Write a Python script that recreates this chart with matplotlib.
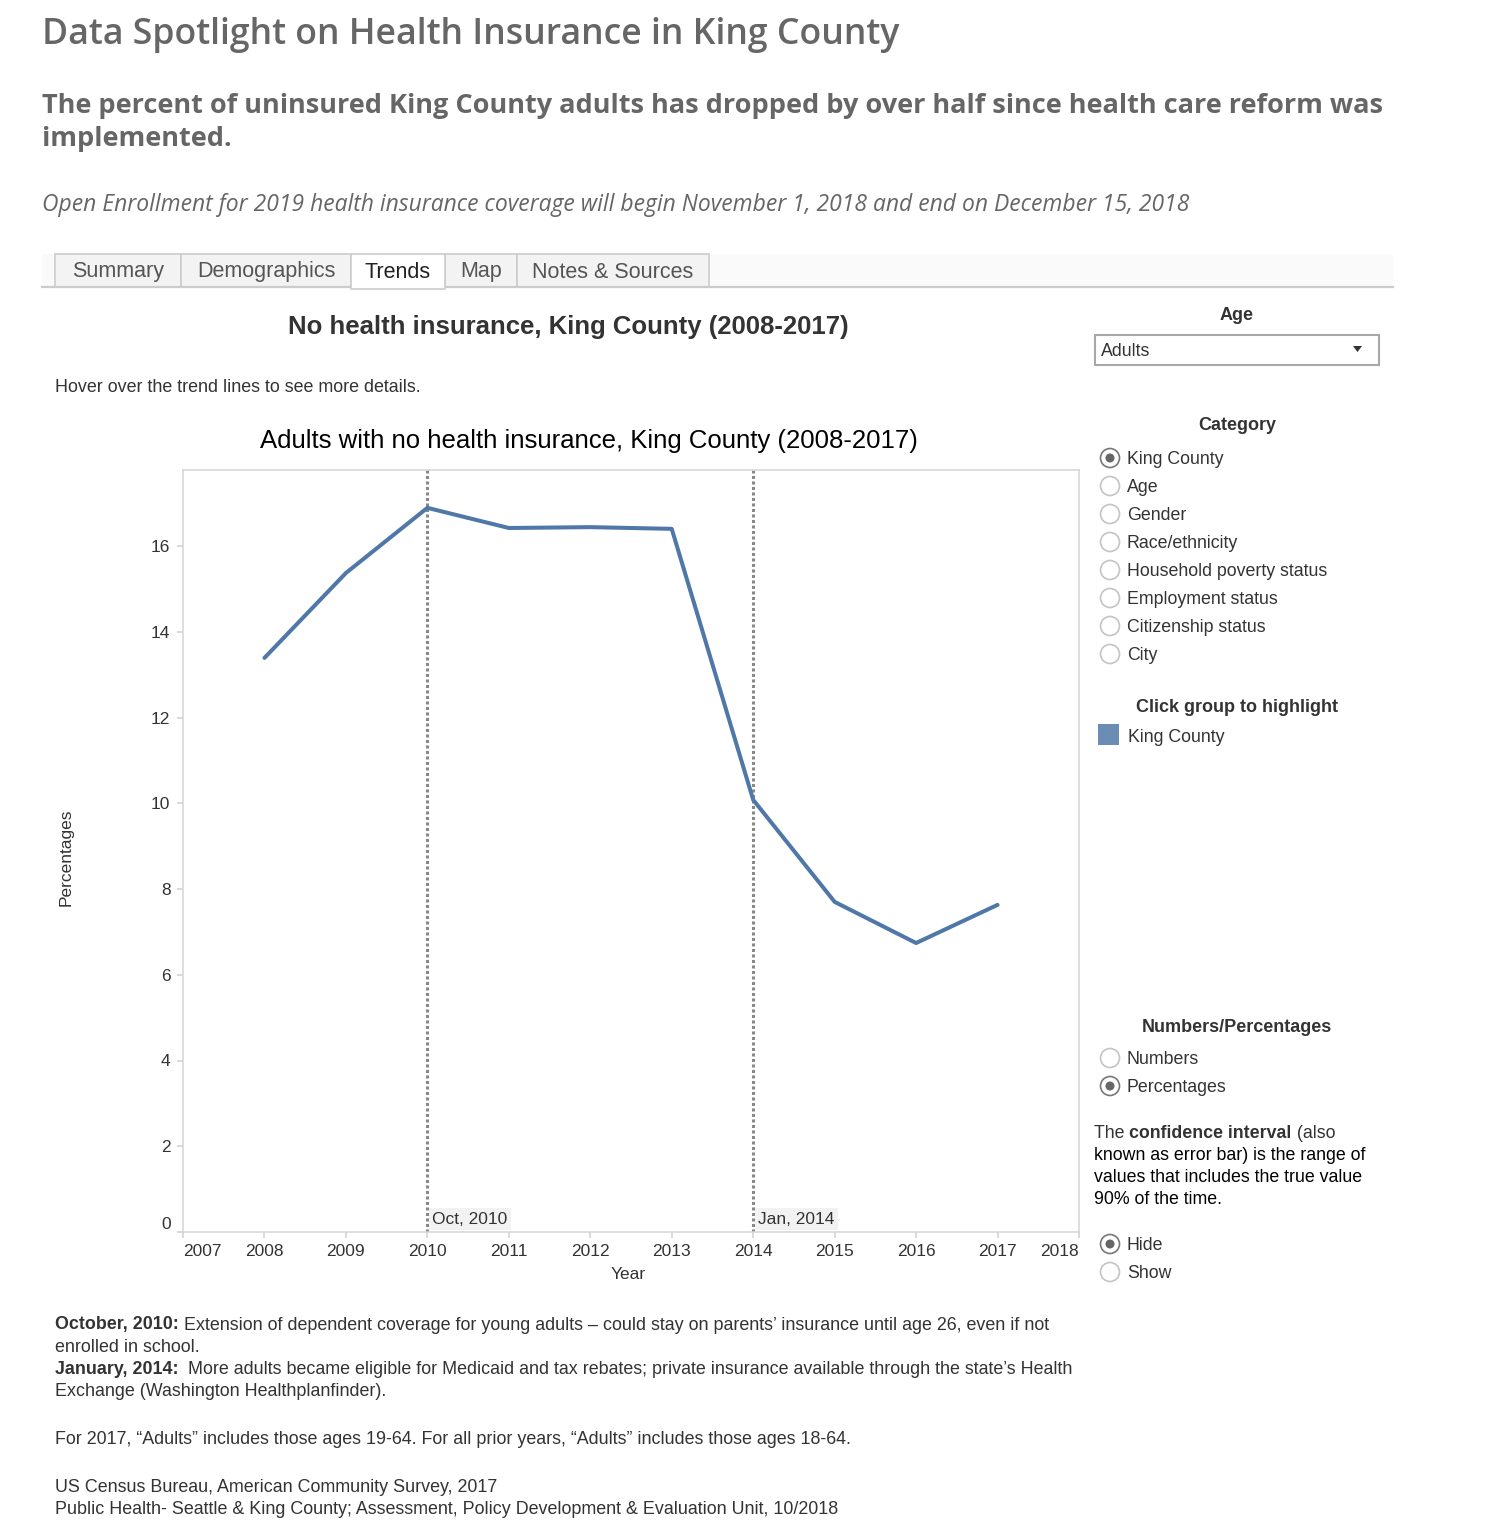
"""King County uninsured adults trend, redrawn as a static dashboard page."""

import matplotlib

matplotlib.use("Agg")
import matplotlib.pyplot as plt
from matplotlib.patches import Rectangle, Circle, Polygon

# ---- data ----
years = [2008, 2009, 2010, 2011, 2012, 2013, 2014, 2015, 2016, 2017]
pct_uninsured = [13.39, 15.37, 16.89, 16.42, 16.44, 16.40, 10.08, 7.70, 6.74, 7.63]
policy_years = [2010, 2014]
policy_labels = ["Oct, 2010", "Jan, 2014"]
y_ticks = [0, 2, 4, 6, 8, 10, 12, 14, 16]
x_ticks = list(range(2007, 2019))

tabs = ["Summary", "Demographics", "Trends", "Map", "Notes & Sources"]
active_tab = "Trends"
category_opts = ["King County", "Age", "Gender", "Race/ethnicity",
                 "Household poverty status", "Employment status",
                 "Citizenship status", "City"]
measure_opts = ["Numbers", "Percentages"]
ci_opts = ["Hide", "Show"]

W, H = 1493, 1533
BODY = ["Liberation Sans", "DejaVu Sans"]
HEAD = ["Open Sans", "DejaVu Sans"]
LINE_BLUE = "#4f78a8"
DARK = "#333333"
FOOT = 12.9

fig = plt.figure(figsize=(W / 100, H / 100), dpi=100)
cv = fig.add_axes([0, 0, 1, 1])
cv.set_xlim(0, W)
cv.set_ylim(H, 0)
cv.axis("off")
renderer = fig.canvas.get_renderer()


def txt(x, y, s, size, **kw):
    kw.setdefault("family", BODY)
    kw.setdefault("color", DARK)
    kw.setdefault("va", "center")
    return cv.text(x, y, s, fontsize=size, **kw)


def rich(x, y, parts, size):
    cx = x
    for s, w in parts:
        t = txt(cx, y, s, size, fontweight=w)
        cx += t.get_window_extent(renderer=renderer).width


def radio(x, y, label, selected):
    cv.add_patch(Circle((x, y), 9.5, facecolor="white",
                        edgecolor="#777777" if selected else "#c4c4c4", lw=1.2))
    if selected:
        cv.add_patch(Circle((x, y), 4.5, facecolor="#666666", edgecolor="none"))
    txt(x + 17, y + 1, label, 12.8)


# ---- page header ----
txt(42, 35, "Data Spotlight on Health Insurance in King County", 25.7,
    family=HEAD, color="#666666", fontweight=600)
txt(42, 106, "The percent of uninsured King County adults has dropped by over half since health care reform was",
    19.5, family=HEAD, color="#666666", fontweight="bold")
txt(42, 139, "implemented.", 19.5, family=HEAD, color="#666666", fontweight="bold")
txt(42, 205, "Open Enrollment for 2019 health insurance coverage will begin November 1, 2018 and end on December 15, 2018",
    16.5, family=HEAD, color="#666666", style="italic")

# ---- tab strip ----
cv.add_patch(Rectangle((42, 254), 1351, 33, facecolor="#fafafa", edgecolor="none"))
tab_edges = [55, 181, 351, 445, 517, 709]
for i, name in enumerate(tabs):
    x0, x1 = tab_edges[i], tab_edges[i + 1]
    act = name == active_tab
    cv.add_patch(Rectangle((x0, 254), x1 - x0, 33 if not act else 35,
                           facecolor="white" if act else "#f3f3f3",
                           edgecolor="#cccccc", lw=1.2, zorder=2 if act else 1))
    txt((x0 + x1) / 2, 272, name, 15.5, ha="center",
        color="#222222" if act else "#555555", zorder=3)
cv.plot([42, 351], [287, 287], color="#cccccc", lw=1.6, zorder=1.5)
cv.plot([445, 1393], [287, 287], color="#cccccc", lw=1.6, zorder=1.5)

# ---- dashboard titles ----
txt(568, 327, "No health insurance, King County (2008-2017)", 18.5, ha="center",
    fontweight="bold")
txt(55, 387, "Hover over the trend lines to see more details.", FOOT)
txt(589, 441, "Adults with no health insurance, King County (2008-2017)", 18.5,
    ha="center", color="black")

# ---- line chart ----
ax = fig.add_axes([183 / W, 1 - 1232 / H, 896 / W, 762 / H])
ax.plot(years, pct_uninsured, color=LINE_BLUE, lw=2.9, solid_joinstyle="round",
        solid_capstyle="round", zorder=3)
for yr, lab in zip(policy_years, policy_labels):
    ax.axvline(yr, color="#888888", lw=2.2, ls=(0, (1, 0.8)), zorder=2)
    ax.text(yr + 0.06, 0.3, lab, fontsize=12.5, family=BODY, color=DARK,
            va="center", ha="left", zorder=4,
            bbox=dict(facecolor="#f2f2f2", edgecolor="none", pad=2.5))
ax.set_xlim(2007, 2018)
ax.set_ylim(0, 762 / 42.875)
ax.set_xticks(x_ticks)
ax.set_yticks(y_ticks)
ax.tick_params(colors="#d0d0d0", labelcolor=DARK, labelsize=12.5, length=4,
               width=1.1)
ax.tick_params(axis="x", pad=5)
ax.tick_params(axis="y", pad=5)
for lab in ax.get_xticklabels() + ax.get_yticklabels():
    lab.set_family(BODY)
xl = ax.get_xticklabels()
xl[0].set_ha("left")
xl[-1].set_ha("right")
ax.get_yticklabels()[0].set_va("bottom")
for sp in ax.spines.values():
    sp.set_color("#d4d4d4")
    sp.set_linewidth(1.1)
ax.set_ylabel("Percentages", fontsize=12.5, family=BODY, color=DARK)
ax.yaxis.set_label_coords((74 - 183) / 896, (1232 - 857) / 762)
ax.set_xlabel("Year", fontsize=12.5, family=BODY, color=DARK)
ax.xaxis.set_label_coords((628 - 183) / 896, (1232 - 1267) / 762)

# ---- right-hand controls ----
txt(1237, 315, "Age", 13, ha="center", fontweight="bold")
cv.add_patch(Rectangle((1095, 335), 284, 30, facecolor="white",
                       edgecolor="#a8a8a8", lw=1.5))
txt(1101, 351, "Adults", 12.8)
cv.add_patch(Polygon([(1353, 346), (1362, 346), (1357.5, 352)],
                     facecolor=DARK, edgecolor="none"))

txt(1237, 425, "Category", 13, ha="center", fontweight="bold")
for i, opt in enumerate(category_opts):
    radio(1110, 458 + 28 * i, opt, i == 0)

txt(1237, 707, "Click group to highlight", 13, ha="center", fontweight="bold")
cv.add_patch(Rectangle((1098, 724), 21, 21, facecolor="#6b8cb4", edgecolor="none"))
txt(1128, 737, "King County", 12.8)

txt(1237, 1027, "Numbers/Percentages", 13, ha="center", fontweight="bold")
for i, opt in enumerate(measure_opts):
    radio(1110, 1058 + 28 * i, opt, opt == "Percentages")

rich(1094, 1133, [("The ", "normal"), ("confidence interval", "bold"),
                  (" (also", "normal")], 12.8)
txt(1094, 1155, "known as error bar) is the range of", 12.8, color="black")
txt(1094, 1177, "values that includes the true value", 12.8, color="black")
txt(1094, 1199, "90% of the time.", 12.8, color="black")

for i, opt in enumerate(ci_opts):
    radio(1110, 1244 + 28 * i, opt, opt == "Hide")

# ---- footnotes ----
rich(55, 1325, [("October, 2010:", "bold"),
                (" Extension of dependent coverage for young adults \u2013 could stay on parents\u2019 insurance until age 26, even if not", "normal")], FOOT)
txt(55, 1347, "enrolled in school.", FOOT)
rich(55, 1369, [("January, 2014:", "bold"),
                ("  More adults became eligible for Medicaid and tax rebates; private insurance available through the state\u2019s Health", "normal")], FOOT)
txt(55, 1391, "Exchange (Washington Healthplanfinder).", FOOT)
txt(55, 1439, "For 2017, \u201cAdults\u201d includes those ages 19-64. For all prior years, \u201cAdults\u201d includes those ages 18-64.", FOOT)
txt(55, 1487, "US Census Bureau, American Community Survey, 2017", FOOT)
txt(55, 1509, "Public Health- Seattle & King County; Assessment, Policy Development & Evaluation Unit, 10/2018", FOOT)

fig.savefig("out.png", dpi=100)
